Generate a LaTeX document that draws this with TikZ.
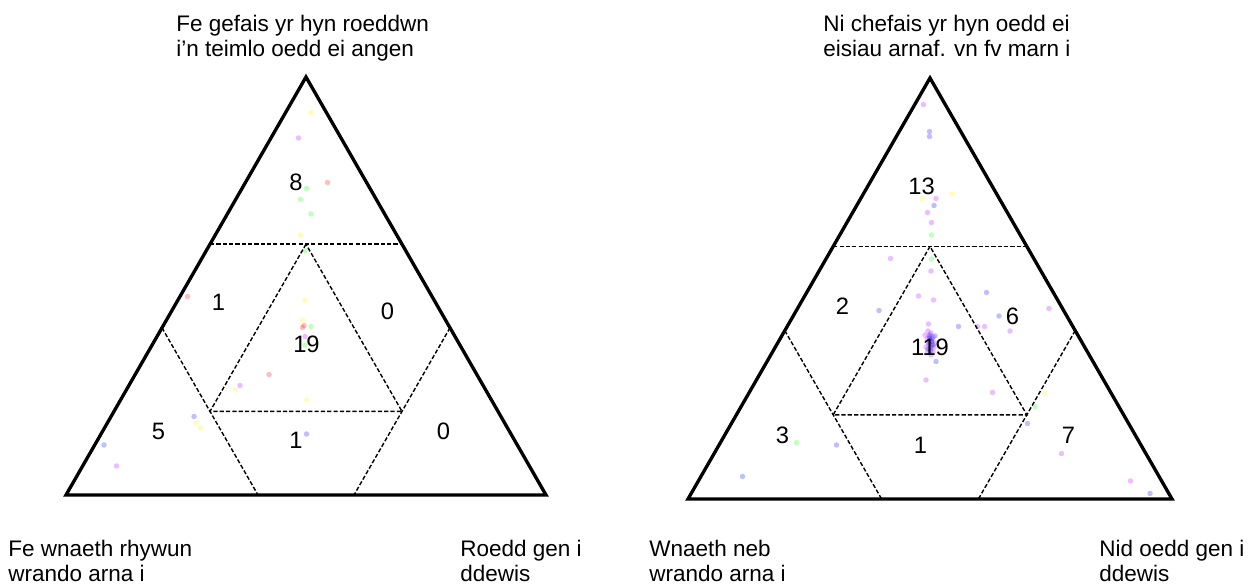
\documentclass[tikz,border=0pt]{standalone}
\usepackage{fontspec}
\setmainfont{Liberation Sans}
\usetikzlibrary{calc}
\definecolor{vio}{RGB}{170,0,255}
\tikzstyle{tri}=[draw=black, line width=1.9pt, line join=miter]
\tikzstyle{split}=[draw=black, line width=0.8pt, dash pattern=on 2.4pt off 1.2pt]
\tikzstyle{count}=[font=\fontsize{13.5}{16}\selectfont, inner sep=0pt]
\tikzstyle{answer}=[font=\fontsize{12.8}{14.23}\selectfont, align=left, anchor=base west, inner sep=0pt]
\tikzstyle{vote}=[fill opacity=0.25]

\begin{document}
\begin{tikzpicture}
        \useasboundingbox (0,0) rectangle (25.1,-11.7);

        % Corners of the two triangles
        \coordinate (L1) at (1.32,-9.9);
        \coordinate (R1) at (10.92,-9.9);
        \coordinate (T1) at (6.12,-1.54);
        \coordinate (L2) at (13.76,-9.98);
        \coordinate (R2) at (23.44,-9.98);
        \coordinate (T2) at (18.6,-1.56);

        % Answers, left
        \foreach \x/\y/\c in {6.22/-2.25/yellow, 5.97/-2.76/vio, 6.55/-3.65/red,
            6.13/-3.77/green, 6.01/-3.99/green, 6.22/-4.28/green, 6.01/-4.70/yellow,
            6.10/-5.01/green, 3.75/-5.93/red, 6.10/-6.01/yellow, 6.05/-6.40/yellow,
            6.08/-6.51/red, 6.05/-6.55/red, 6.22/-6.53/green, 6.10/-6.73/vio,
            6.10/-6.90/green, 5.38/-7.49/red, 4.80/-7.71/vio, 4.71/-7.80/yellow,
            6.13/-8.00/yellow, 3.88/-8.33/blue, 3.92/-8.45/yellow, 4.01/-8.56/yellow,
            6.13/-8.68/blue, 2.08/-8.90/blue, 2.33/-9.32/vio}
          \fill[vote, \c] (\x,\y) circle (0.055);

        % Answers, right
        \foreach \x/\y/\c in {18.47/-2.09/vio, 18.59/-2.63/blue, 18.59/-2.73/blue,
            19.05/-3.88/yellow, 18.45/-3.97/yellow, 18.72/-3.97/vio, 18.68/-4.11/blue,
            18.55/-4.25/vio, 18.63/-4.45/vio, 18.63/-4.70/green, 17.81/-5.17/vio,
            18.63/-5.18/green, 18.62/-5.42/vio, 19.73/-5.85/blue, 18.37/-5.92/vio,
            18.67/-6.00/vio, 20.98/-6.17/vio, 17.58/-6.21/blue, 19.98/-6.32/blue,
            18.57/-6.48/vio, 19.17/-6.53/blue, 19.55/-6.53/vio, 19.69/-6.53/vio,
            20.20/-6.62/vio, 18.72/-7.23/blue, 18.52/-7.60/vio, 19.85/-7.85/vio,
            20.90/-7.87/yellow, 20.70/-8.13/green, 20.55/-8.47/blue, 15.93/-8.85/green,
            16.73/-8.90/blue, 21.23/-9.07/vio, 14.85/-9.53/blue, 22.61/-9.62/vio,
            23.00/-9.87/blue}
          \fill[vote, \c] (\x,\y) circle (0.055);

        % Cluster in the middle, right
        \foreach \x/\y/\c in {18.56/-6.62/vio, 18.62/-6.66/vio, 18.58/-6.72/vio,
            18.66/-6.74/vio, 18.54/-6.78/vio, 18.60/-6.80/vio, 18.64/-6.84/vio,
            18.57/-6.88/vio, 18.63/-6.90/vio, 18.52/-6.94/vio, 18.68/-6.95/vio,
            18.60/-6.98/vio, 18.55/-7.04/vio, 18.66/-7.04/vio, 18.62/-7.10/vio,
            18.50/-6.70/vio, 18.70/-6.86/vio, 18.60/-6.70/blue, 18.64/-6.78/blue,
            18.58/-6.86/blue, 18.62/-6.94/blue, 18.56/-6.98/blue, 18.66/-6.90/blue,
            18.61/-7.02/blue, 18.70/-6.72/blue, 18.59/-6.76/blue, 18.63/-6.82/blue}
          \fill[vote, \c] (\x,\y) circle (0.055);

        % Triangles and their parts
        \foreach \t in {1,2} {
          \coordinate (a\t) at ($0.6*(T\t)+0.2*(L\t)+0.2*(R\t)$);
          \coordinate (b\t) at ($0.2*(T\t)+0.6*(L\t)+0.2*(R\t)$);
          \coordinate (c\t) at ($0.2*(T\t)+0.2*(L\t)+0.6*(R\t)$);
          \coordinate (h\t) at ($0.6*(T\t)+0.4*(L\t)$);
          \coordinate (k\t) at ($0.6*(T\t)+0.4*(R\t)$);
          \coordinate (el\t) at ($0.4*(T\t)+0.6*(L\t)$);
          \coordinate (bl\t) at ($0.6*(L\t)+0.4*(R\t)$);
          \coordinate (er\t) at ($0.4*(T\t)+0.6*(R\t)$);
          \coordinate (br\t) at ($0.4*(L\t)+0.6*(R\t)$);
          \draw [split] (h\t) -- (k\t);
          \draw [split] (a\t) -- (b\t) -- (c\t) -- cycle;
          \draw [split] (el\t) -- (b\t) -- (bl\t);
          \draw [split] (er\t) -- (c\t) -- (br\t);
          \draw [tri] (L\t) -- (R\t) -- (T\t) -- cycle;
        }

        % Counts
        \node at (5.92,-3.65) [count] (top_1) {8};
        \node at (4.37,-6.05) [count] (left_1) {1};
        \node at (7.75,-6.23) [count] (right_1) {0};
        \node at (6.13,-6.89) [count] (mid_1) {19};
        \node at (3.17,-8.62) [count] (lc_1) {5};
        \node at (5.92,-8.80) [count] (low_1) {1};
        \node at (8.87,-8.62) [count] (rc_1) {0};

        \node at (18.43,-3.73) [count] (top_2) {13};
        \node at (16.85,-6.13) [count] (left_2) {2};
        \node at (20.25,-6.32) [count] (right_2) {6};
        \node at (18.60,-6.95) [count] (mid_2) {119};
        \node at (15.65,-8.70) [count] (lc_2) {3};
        \node at (18.41,-8.90) [count] (low_2) {1};
        \node at (21.37,-8.70) [count] (rc_2) {7};

        % Text
        \node at (3.52,-1.13) [answer] (got) {Fe gefais yr hyn roeddwn\\i’n teimlo oedd ei angen};
        \node at (16.46,-1.13) [answer] (notgot) {Ni chefais yr hyn oedd ei\\eisiau arnaf. vn fv marn i};
        \node at (0.16,-11.63) [answer] (heard) {Fe wnaeth rhywun\\wrando arna i};
        \node at (9.2,-11.63) [answer] (choice) {Roedd gen i\\ddewis};
        \node at (12.98,-11.63) [answer] (notheard) {Wnaeth neb\\wrando arna i};
        \node at (21.98,-11.63) [answer] (nochoice) {Nid oedd gen i\\ddewis};
      \end{tikzpicture}
\end{document}
